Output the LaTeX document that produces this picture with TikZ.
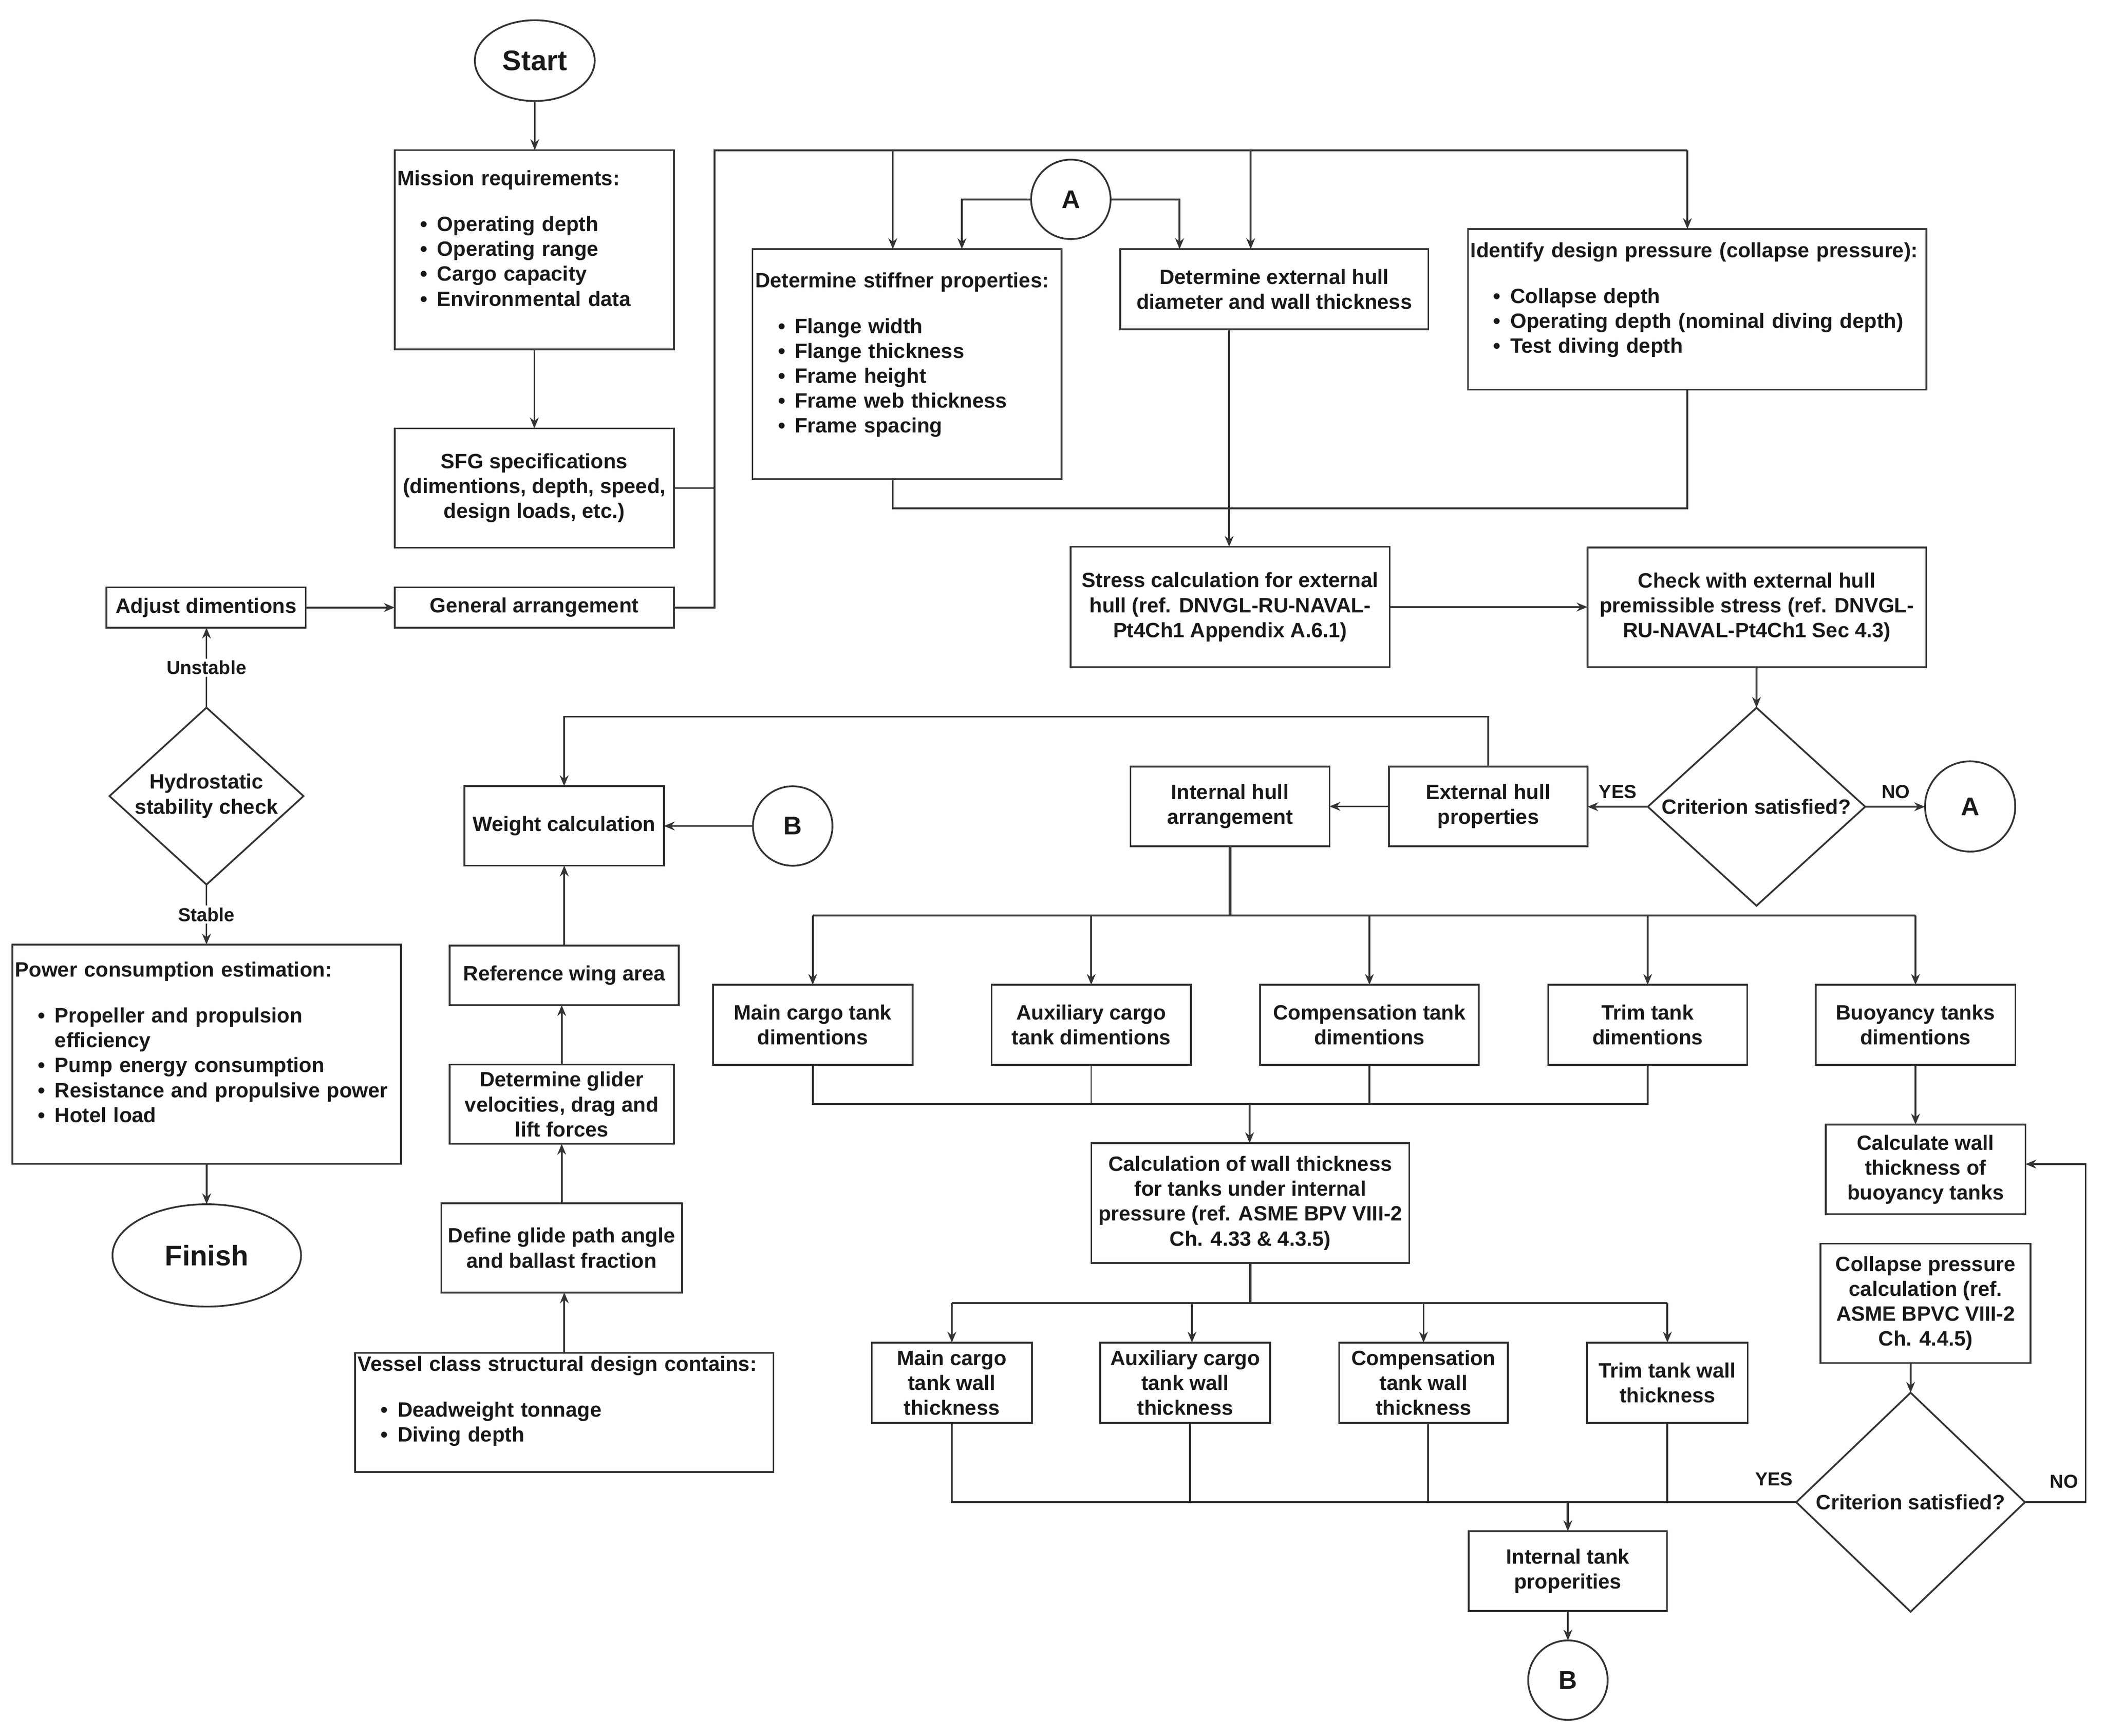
\documentclass[tikz,border=0pt]{standalone}
\usepackage{fontspec}
\setmainfont{Liberation Sans}
\usetikzlibrary{shapes.geometric,arrows.meta,calc}
\newcommand\blt{\hspace*{17pt}\makebox[12.5pt][l]{\textbullet}}
\begin{document}
\begin{tikzpicture}[x=1pt,y=-1pt,
  every node/.style={font=\fontsize{15.4}{18.5}\selectfont\bfseries, text=black!90},
  box/.style={draw=black!80, line width=1.3pt, rectangle, inner sep=0pt, outer sep=0pt, align=center},
  listbox/.style={box, align=left},
  dia/.style={rectangle, draw=none, inner sep=0pt, outer sep=0pt, align=center},
  term/.style={draw=black!80, line width=1.3pt, ellipse, inner sep=0pt, outer sep=0pt, font=\fontsize{21}{25}\selectfont\bfseries},
  conn/.style={draw=black!80, line width=1.3pt, circle, inner sep=0pt, outer sep=0pt, font=\fontsize{19}{22}\selectfont\bfseries},
  lbl/.style={font=\fontsize{14}{16}\selectfont\bfseries, inner sep=1.5pt},
  ln/.style={draw=black!80, line width=1.3pt},
  arr/.style={-{Stealth[length=8pt,width=6.5pt]}}
]
\useasboundingbox (0,0) rectangle (1562,1288.5);

% ---------- left column ----------
\node[term, minimum width=89pt, minimum height=60pt] (start) at (397,45) {Start};
\node[listbox, minimum width=207.4pt, minimum height=148pt, text width=203.4pt] (mission) at (396.7,185.4)
 {Mission requirements:\\[15.5pt]
  \blt Operating depth\\
  \blt Operating range\\
  \blt Cargo capacity\\
  \blt Environmental data\\[-7pt]\strut};
\node[box, minimum width=207.4pt, minimum height=88.6pt] (sfg) at (396.7,362.3)
 {SFG specifications\\(dimentions, depth, speed,\\design loads, etc.)};
\node[box, minimum width=207.4pt, minimum height=30pt] (ga) at (396.7,451) {General arrangement};
\node[box, minimum width=148pt, minimum height=30pt] (adjust) at (153,451) {Adjust dimentions};

\node[dia, minimum width=144pt, minimum height=131.4pt] (hydro) at (153.3,591) {Hydrostatic\\stability check};
\draw[ln] (hydro.north) -- (hydro.east) -- (hydro.south) -- (hydro.west) -- cycle;

\node[listbox, minimum width=288.4pt, minimum height=162.9pt, text width=284.4pt] (power) at (153.4,782.65)
 {Power consumption estimation:\\[15.5pt]
  \blt Propeller and propulsion\\
  \hspace*{29.5pt}efficiency\\
  \blt Pump energy consumption\\
  \blt Resistance and propulsive power\\
  \blt Hotel load\\[-6pt]\strut};
\node[term, minimum width=140pt, minimum height=76pt] (finish) at (153.5,932) {Finish};

% ---------- upper middle ----------
\node[listbox, minimum width=229.4pt, minimum height=170.8pt, text width=225.4pt] (stiff) at (673.3,270.3)
 {Determine stiffner properties:\\[15.5pt]
  \blt Flange width\\
  \blt Flange thickness\\
  \blt Frame height\\
  \blt Frame web thickness\\
  \blt Frame spacing\\[-7pt]\strut};
\node[conn, minimum size=59pt] (Atop) at (795,148) {A};
\node[box, minimum width=228.9pt, minimum height=59.6pt] (exthd) at (946,214.7)
 {Determine external hull\\diameter and wall thickness};
\node[listbox, minimum width=340.3pt, minimum height=119.3pt, text width=336.3pt] (identify) at (1259.9,229.65)
 {Identify design pressure (collapse pressure):\\[15.5pt]
  \blt Collapse depth\\
  \blt Operating depth (nominal diving depth)\\
  \blt Test diving depth\\[-7pt]\strut};
\node[box, minimum width=236.9pt, minimum height=89.5pt] (stress) at (913.2,450.65)
 {Stress calculation for external\\hull (ref. DNVGL-RU-NAVAL-\\Pt4Ch1 Appendix A.6.1)};
\node[box, minimum width=251.5pt, minimum height=89pt] (check) at (1304.25,450.9)
 {Check with external hull\\premissible stress (ref. DNVGL-\\RU-NAVAL-Pt4Ch1 Sec 4.3)};

\node[dia, minimum width=161.4pt, minimum height=147pt] (crit1) at (1304,598.9) {Criterion satisfied?};
\draw[ln] (crit1.north) -- (crit1.east) -- (crit1.south) -- (crit1.west) -- cycle;
\node[conn, minimum size=67pt] (Aright) at (1462.6,598.7) {A};
\node[box, minimum width=147.3pt, minimum height=59.3pt] (exthp) at (1104.85,598.65) {External hull\\properties};
\node[box, minimum width=147.7pt, minimum height=59.3pt] (inthull) at (913.15,598.65) {Internal hull\\arrangement};

% ---------- glider column ----------
\node[box, minimum width=148.2pt, minimum height=59pt] (weight) at (418.8,613.1) {Weight calculation};
\node[conn, minimum size=59pt] (Bleft) at (588.5,613.2) {B};
\node[box, minimum width=170.2pt, minimum height=44.2pt] (refwing) at (418.9,724.1) {Reference wing area};
\node[box, minimum width=166.5pt, minimum height=58.8pt] (glider) at (417,819.8) {Determine glider\\velocities, drag and\\lift forces};
\node[box, minimum width=178.9pt, minimum height=66.1pt] (glide) at (417,926.45) {Define glide path angle\\and ballast fraction};
\node[listbox, minimum width=310.5pt, minimum height=88.4pt, text width=306.5pt] (vessel) at (418.95,1048.6)
 {Vessel class structural design contains:\\[15.5pt]
  \blt Deadweight tonnage\\
  \blt Diving depth\\[-4pt]\strut};

% ---------- tanks ----------
\node[box, minimum width=148.1pt, minimum height=59.4pt] (maincargo) at (603.35,760.8) {Main cargo tank\\dimentions};
\node[box, minimum width=147.8pt, minimum height=59.4pt] (auxcargo) at (810.1,760.8) {Auxiliary cargo\\tank dimentions};
\node[box, minimum width=162.3pt, minimum height=59.4pt] (comp) at (1016.65,760.8) {Compensation tank\\dimentions};
\node[box, minimum width=147.8pt, minimum height=59.4pt] (trim) at (1223.2,760.8) {Trim tank\\dimentions};
\node[box, minimum width=148.3pt, minimum height=59.4pt] (buoy) at (1422.05,760.8) {Buoyancy tanks\\dimentions};

\node[box, minimum width=236pt, minimum height=89.1pt] (calc) at (928.2,893.15)
 {Calculation of wall thickness\\for tanks under internal\\pressure (ref. ASME BPV VIII-2\\Ch. 4.33 \& 4.3.5)};
\node[box, minimum width=148.3pt, minimum height=66.7pt] (calcbuoy) at (1429.55,868.15)
 {Calculate wall\\thickness of\\buoyancy tanks};
\node[box, minimum width=155.9pt, minimum height=88.6pt] (collapse) at (1429.55,967.5)
 {Collapse pressure\\calculation (ref.\\ASME BPVC VIII-2\\Ch. 4.4.5)};
\node[dia, minimum width=169.8pt, minimum height=162.6pt] (crit2) at (1418.4,1115.2) {Criterion satisfied?};
\draw[ln] (crit2.north) -- (crit2.east) -- (crit2.south) -- (crit2.west) -- cycle;

\node[box, minimum width=118.9pt, minimum height=59.7pt] (mainwall) at (706.65,1026.55) {Main cargo\\tank wall\\thickness};
\node[box, minimum width=126.2pt, minimum height=59.7pt] (auxwall) at (879.9,1026.55) {Auxiliary cargo\\tank wall\\thickness};
\node[box, minimum width=125.4pt, minimum height=59.7pt] (compwall) at (1056.8,1026.55) {Compensation\\tank wall\\thickness};
\node[box, minimum width=119.1pt, minimum height=59.7pt] (trimwall) at (1237.85,1026.55) {Trim tank wall\\thickness};
\node[box, minimum width=147.3pt, minimum height=59.2pt] (inttank) at (1163.95,1166.3) {Internal tank\\properities};
\node[conn, minimum size=59pt] (Bbot) at (1164,1247.3) {B};

% ---------- junction coordinates ----------
\coordinate (busT) at (530.5,111.7);
\coordinate (busR) at (1252.7,111.7);
\coordinate (bs1) at (662.8,111.7);
\coordinate (bs2) at (928.5,111.7);
\coordinate (busB) at (1252.7,377.4);
\coordinate (sa) at (714.1,148);
\coordinate (sb) at (875.7,148);
\coordinate (exd) at (912.5,244.5);
\coordinate (tb) at (913.6,679.7);
\coordinate (mb) at (927.7,819.5);
\coordinate (cb) at (928,967.4);
\coordinate (nb) at (1548.3,864.2);

% ---------- connectors ----------
\draw[ln,arr] (start.south) -- (start.south |- mission.north);
\draw[ln,arr] (mission.south) -- (sfg.north);
\draw[ln,arr] (adjust.east) -- (ga.west);
\draw[ln,arr] (hydro.north) -- node[lbl, fill=white] (unst) {Unstable} (hydro.north |- adjust.south);
\draw[ln,arr] (hydro.south) -- node[lbl, fill=white] (stab) {Stable} (hydro.south |- power.north);
\draw[ln,arr] (power.south) -- (power.south |- finish.north);

\draw[ln] (sfg.east) -- (sfg.east -| busT);
\draw[ln] (ga.east) -- (ga.east -| busT) -- (busT) -- (busR);
\draw[ln,arr] (busR) -- (busR |- identify.north);
\draw[ln,arr] (bs1) -- (bs1 |- stiff.north);
\draw[ln,arr] (bs2) -- (bs2 |- exthd.north);
\draw[ln,arr] (Atop.west) -- (sa) -- (sa |- stiff.north);
\draw[ln,arr] (Atop.east) -- (sb) -- (sb |- exthd.north);
\draw[ln] (bs1 |- stiff.south) -- (bs1 |- busB) -- (busB) -- (busB |- identify.south);
\draw[ln,arr] (exd) -- (exd |- stress.north);
\draw[ln,arr] (stress.east) -- (stress.east -| check.west);
\draw[ln,arr] (check.south -| crit1.north) -- (crit1.north);
\draw[ln,arr] (crit1.west) -- (crit1.west -| exthp.east);
\draw[ln,arr] (crit1.east) -- (crit1.east -| Aright.west);
\node[lbl] (yes1) at (1201,587.7) {YES};
\node[lbl] (no1) at (1407.4,587.7) {NO};
\draw[ln,arr] (exthp.west) -- (inthull.east);
\draw[ln,arr] (exthp.north) -- ++(0,-37) -| (weight.north);

\draw[ln,arr] (Bleft.west) -- (Bleft.west -| weight.east);
\draw[ln,arr] (refwing.north) -- (refwing.north |- weight.south);
\draw[ln,arr] (glider.north) -- (glider.north |- refwing.south);
\draw[ln,arr] (glide.north) -- (glide.north |- glider.south);
\draw[ln,arr] (vessel.north) -- (vessel.north |- glide.south);

\draw[ln, line width=1.8pt] (inthull.south) -- (inthull.south |- tb);
\draw[ln] (maincargo.north |- tb) -- (buoy.north |- tb);
\draw[ln,arr] (maincargo.north |- tb) -- (maincargo.north);
\draw[ln,arr] (auxcargo.north |- tb) -- (auxcargo.north);
\draw[ln,arr] (comp.north |- tb) -- (comp.north);
\draw[ln,arr] (trim.north |- tb) -- (trim.north);
\draw[ln,arr] (buoy.north |- tb) -- (buoy.north);

\draw[ln] (maincargo.south) -- (maincargo.south |- mb) -- (trim.south |- mb) -- (trim.south);
\draw[ln, line width=0.6pt] (auxcargo.south) -- (auxcargo.south |- mb);
\draw[ln] (comp.south) -- (comp.south |- mb);
\draw[ln,arr] (mb) -- (mb |- calc.north);

\draw[ln, line width=1.6pt] (calc.south) -- (calc.south |- cb);
\draw[ln] (mainwall.north |- cb) -- (trimwall.north |- cb);
\draw[ln,arr] (mainwall.north |- cb) -- (mainwall.north);
\draw[ln,arr] ([xshift=5pt]auxwall.north |- cb) -- ([xshift=5pt]auxwall.north);
\draw[ln,arr] (compwall.north |- cb) -- (compwall.north);
\draw[ln,arr] (trimwall.north |- cb) -- (trimwall.north);

\draw[ln] (mainwall.south) -- (mainwall.south |- crit2.west) -- (crit2.west);
\draw[ln] ([xshift=3.4pt]auxwall.south) -- ([xshift=3.4pt]auxwall.south |- crit2.west);
\draw[ln] ([xshift=3.4pt]compwall.south) -- ([xshift=3.4pt]compwall.south |- crit2.west);
\draw[ln] (trimwall.south) -- (trimwall.south |- crit2.west);
\draw[ln,arr, line width=1.6pt] (inttank.north |- crit2.west) -- (inttank.north);
\draw[ln,arr] (inttank.south) -- (Bbot.north);
\node[lbl] (yes2) at (1317,1098) {YES};
\node[lbl] (no2) at (1532.4,1100) {NO};

\draw[ln,arr] (buoy.south) -- (buoy.south |- calcbuoy.north);
\draw[ln,arr] (collapse.south -| crit2.north) -- (crit2.north);
\draw[ln,arr] (crit2.east) -| (nb) -- (nb -| calcbuoy.east);
\end{tikzpicture}
\end{document}
